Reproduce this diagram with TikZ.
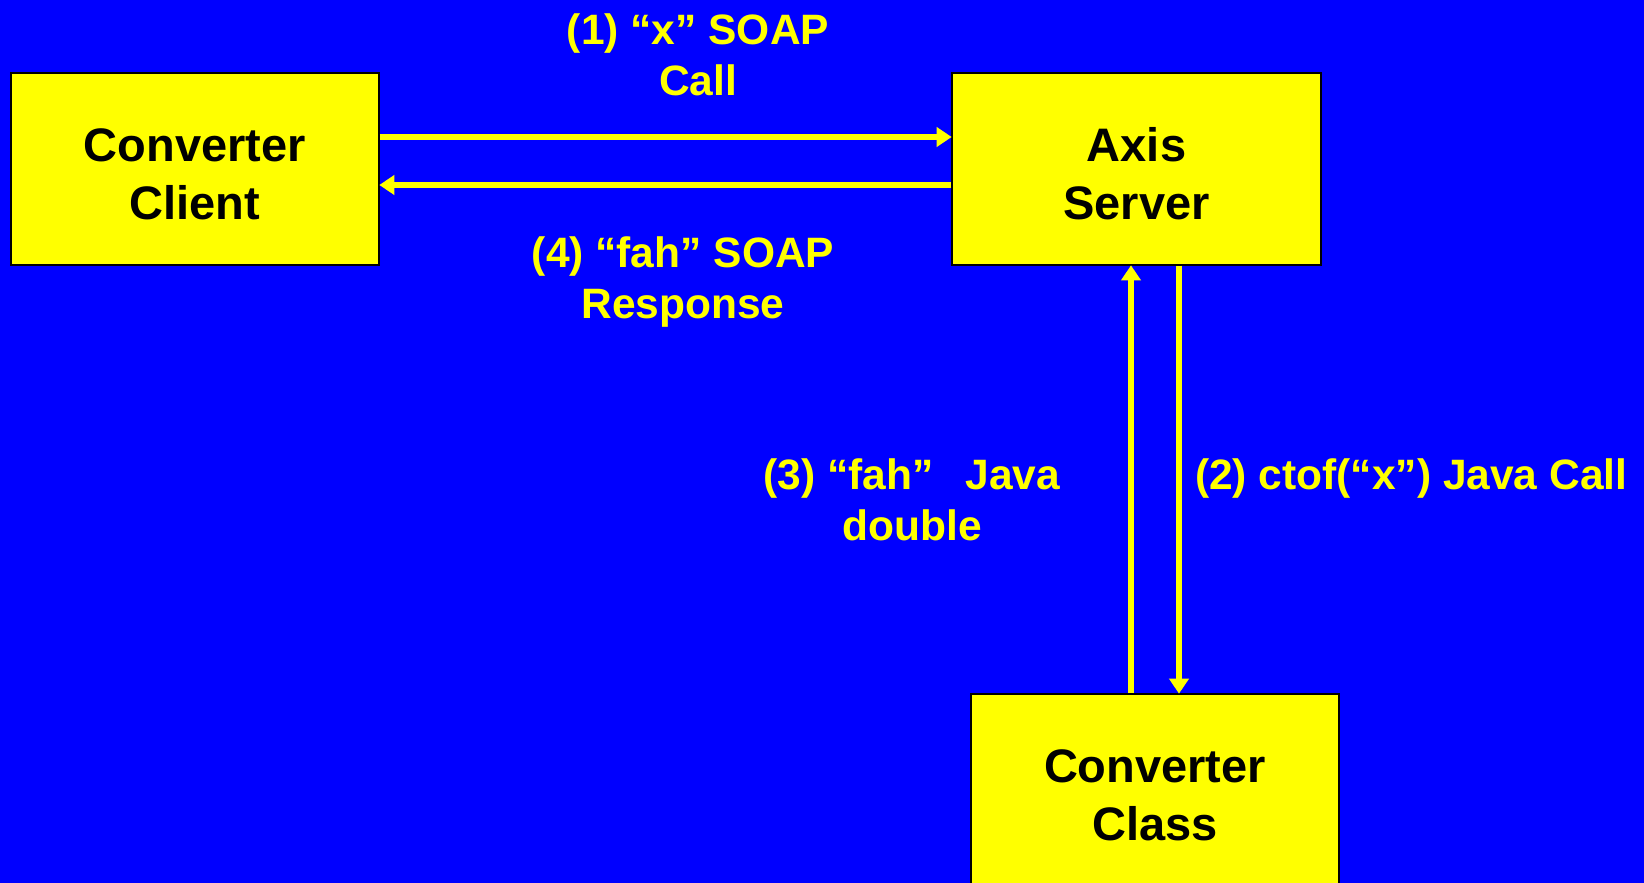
\documentclass[tikz,border=0pt]{standalone}
\usepackage{fontspec}
\setmainfont{Liberation Sans}
\usetikzlibrary{arrows.meta}
\definecolor{bg}{RGB}{0,0,255}
\definecolor{yel}{RGB}{255,255,0}
\newcommand{\lowstrut}{\rule{0pt}{44pt}}
\begin{document}
\begin{tikzpicture}[x=1pt,y=-1pt,
  box/.style={draw=black,line width=1.6pt,fill=yel,inner sep=0pt,
    font=\fontsize{47}{58}\selectfont\bfseries,align=center,text=black},
  lbl/.style={inner sep=0pt,text=yel,align=center,
    font=\fontsize{42.5}{51}\selectfont\bfseries},
  arr/.style={draw=yel,line width=5.5pt,-{Triangle[length=15pt,width=19pt]},shorten >=-0.5pt}]
\fill[bg] (0,0) rectangle (1644,883);
\useasboundingbox (0,0) rectangle (1644,883);
\node[box,minimum width=368pt,minimum height=192pt] (client) at (195,169) {\lowstrut Converter\\Client};
\node[box,minimum width=369pt,minimum height=192pt] (server) at (1136.5,169) {\lowstrut Axis\\Server};
\node[box,minimum width=368pt,minimum height=202pt] (class) at (1155,795) {Converter\\Class};
\coordinate (ya) at (0,137);
\coordinate (yb) at (0,185);
\coordinate (xu) at (1131,0);
\coordinate (xd) at (1179,0);
\draw[arr] (client.east |- ya) -- (server.west |- ya);
\draw[arr] (server.west |- yb) -- (client.east |- yb);
\draw[arr] (xu |- class.north) -- (xu |- server.south);
\draw[arr] (xd |- server.south) -- (xd |- class.north);
\node[lbl] (l1) at (698,55) {(1) “x” SOAP\\Call};
\node[lbl] (l4) at (683,282) {(4) “fah” SOAP\\Response};
\node[lbl] (l3) at (912,500) {(3) “fah”\hspace{0.75em}Java\\double};
\node[lbl,anchor=west] (l2) at (1195,479) {(2) ctof(“x”) Java Call};
\end{tikzpicture}
\end{document}
